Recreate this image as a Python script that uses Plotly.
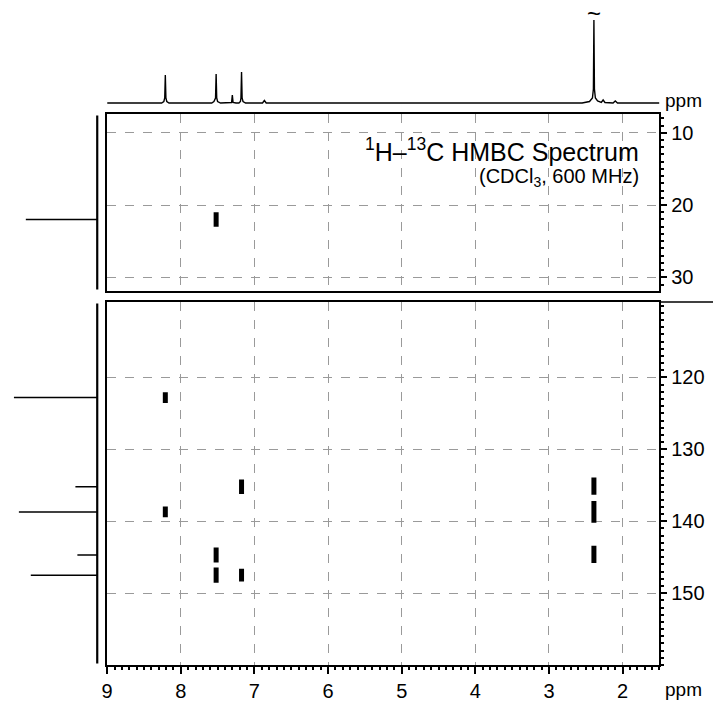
import plotly.graph_objects as go

# ---------------- data ----------------
# 1H projection (top trace): chemical shift (ppm) and intensity
h1_ppm = [9.00, 8.26, 8.23, 8.218, 8.21, 8.202, 8.19, 8.16,
          7.58, 7.55, 7.528, 7.52, 7.512, 7.50, 7.46,
          7.33, 7.31, 7.30, 7.29, 7.25,
          7.21, 7.19, 7.183, 7.175, 7.167, 7.155, 7.12,
          6.89, 6.865, 6.84,
          2.55, 2.45, 2.41, 2.397, 2.39, 2.383, 2.37, 2.34,
          2.29, 2.265, 2.24, 2.13, 2.10, 2.07, 1.50]
h1_int = [0, 0, 1.5, 5, 28, 5, 1.5, 0,
          0, 1.5, 5, 29, 5, 1.5, 0,
          0, 0.5, 8, 0.5, 0,
          0, 1.5, 5, 31, 5, 1.5, 0,
          0, 2.5, 0,
          0, 1.5, 5, 14, 83, 14, 5, 2,
          0.5, 3, 0.5, 0, 2, 0, 0]
h1_truncated_ppm = [2.39]

# 13C projection (left trace)
c13_ppm = [22.0, 122.8, 135.2, 138.7, 144.7, 147.5]
c13_int = [72, 84, 22, 79, 20, 67]

# HMBC cross peaks (1H ppm, 13C ppm, 13C half-extent of contour)
hmbc_h = [7.52, 8.21, 8.21, 7.175, 7.52, 7.52, 7.175, 2.39, 2.39, 2.39]
hmbc_c = [22.0, 122.8, 138.7, 135.2, 144.7, 147.5, 147.5, 135.1, 138.7, 144.6]
hmbc_hw = [1.0, 0.75, 0.75, 1.0, 1.05, 1.05, 0.9, 1.2, 1.5, 1.2]

x_ticks = [9, 8, 7, 6, 5, 4, 3, 2]
y_ticks_top = [10, 20, 30]
y_ticks_bottom = [120, 130, 140, 150]

# ---------------- geometry ----------------
W, H = 713, 703
def px_x(a, b):
    return [a / W, b / W]
def px_y(top, bottom):
    return [1 - bottom / H, 1 - top / H]

FONT = "Liberation Sans, Arial, Helvetica, sans-serif"
GRID = "#9a9a9a"
TOP_RANGE = [31.9, 7.4]
BOT_RANGE = [160.0, 109.5]
TOP_DOM = px_y(114, 291)
BOT_DOM = px_y(302, 665)

fig = go.Figure()

# 1H spectrum
fig.add_trace(go.Scatter(x=h1_ppm, y=h1_int, mode="lines",
                         line=dict(color="black", width=1.4),
                         xaxis="x4", yaxis="y4", hoverinfo="skip"))

# 13C projection sticks
def proj(panel_test, yaxis, yrange):
    xs, ys = [], []
    for c, v in zip(c13_ppm, c13_int):
        if panel_test(c):
            xs += [0, v, None]
            ys += [c, c, None]
    fig.add_trace(go.Scatter(x=xs, y=ys, mode="lines",
                             line=dict(color="black", width=1.5),
                             xaxis="x3", yaxis=yaxis, hoverinfo="skip"))
    # baseline of the projection
    fig.add_trace(go.Scatter(x=[0, 0], y=[yrange[0] - 0.2, yrange[1] + 0.2],
                             mode="lines", line=dict(color="black", width=2.2),
                             xaxis="x3", yaxis=yaxis, hoverinfo="skip"))

proj(lambda c: c < 60, "y5", TOP_RANGE)
proj(lambda c: c >= 60, "y6", BOT_RANGE)

# cross peaks
def peaks(panel_test, xaxis, yaxis):
    xs, ys = [], []
    for h, c, w in zip(hmbc_h, hmbc_c, hmbc_hw):
        if panel_test(c):
            xs += [h, h, None]
            ys += [c - w, c + w, None]
    fig.add_trace(go.Scatter(x=xs, y=ys, mode="lines",
                             line=dict(color="black", width=5),
                             xaxis=xaxis, yaxis=yaxis, hoverinfo="skip"))

peaks(lambda c: c < 60, "x2", "y2")
peaks(lambda c: c >= 60, "x", "y3")

xdom = px_x(102, 659)
common_x = dict(range=[9, 1.5], domain=xdom, showgrid=True, griddash="dash",
                gridcolor=GRID, gridwidth=1, zeroline=False,
                showline=True, linecolor="black", linewidth=1.5, mirror=True)
common_y = dict(side="right", ticks="outside", ticklen=6, tickwidth=1.5,
                tickcolor="black",
                minor=dict(dtick=1, ticks="outside", ticklen=3,
                           tickcolor="black", showgrid=False),
                showgrid=True, griddash="dash", gridcolor=GRID, zeroline=False,
                showline=True, linecolor="black", linewidth=1.5, mirror=True,
                tickfont=dict(size=20))

fig.update_layout(
    width=W, height=H,
    margin=dict(l=0, r=0, t=0, b=0),
    paper_bgcolor="white", plot_bgcolor="white",
    showlegend=False,
    font=dict(family=FONT, color="black", size=20),
    xaxis=dict(**common_x, anchor="y3", tickvals=x_ticks, ticks="outside",
               ticklen=7, tickwidth=1.5, tickcolor="black",
               minor=dict(dtick=0.1, ticks="outside", ticklen=3,
                          tickcolor="black", showgrid=False),
               tickfont=dict(size=20)),
    xaxis2=dict(**common_x, anchor="y2", matches="x", tickvals=x_ticks,
                showticklabels=False, ticks=""),
    xaxis4=dict(range=[9, 1.5], domain=xdom, anchor="y4", visible=False),
    xaxis3=dict(range=[92, -4], domain=px_x(0, 96), anchor="free",
                position=0, visible=False),
    yaxis2=dict(**common_y, range=TOP_RANGE, domain=TOP_DOM, anchor="x",
                tickvals=y_ticks_top),
    yaxis3=dict(**common_y, range=BOT_RANGE, domain=BOT_DOM, anchor="x",
                tickvals=y_ticks_bottom),
    yaxis4=dict(range=[-2, 103], domain=px_y(0, 105), anchor="x4",
                visible=False),
    yaxis5=dict(range=TOP_RANGE, domain=TOP_DOM, anchor="x3", visible=False,
                showgrid=False),
    yaxis6=dict(range=BOT_RANGE, domain=BOT_DOM, anchor="x3", visible=False,
                showgrid=False),
)

# extension of the bottom panel's top border
fig.add_shape(type="line", xref="paper", yref="paper",
              x0=659 / W, x1=1.0, y0=1 - 302 / H, y1=1 - 302 / H,
              line=dict(color="black", width=1.5))

annotations = [
    dict(text="<sup>1</sup>H–<sup>13</sup>C HMBC Spectrum", xref="paper", yref="paper",
         x=640 / W, y=1 - 150 / H, xanchor="right", yanchor="middle",
         showarrow=False, font=dict(size=25)),
    dict(text="(CDCl<sub>3</sub>, 600 MHz)", xref="paper", yref="paper",
         x=640 / W, y=1 - 177 / H, xanchor="right", yanchor="middle",
         showarrow=False, font=dict(size=20)),
    dict(text="ppm", xref="paper", yref="paper", x=683 / W, y=1 - 100 / H,
         xanchor="center", yanchor="middle", showarrow=False, font=dict(size=19)),
    dict(text="ppm", xref="paper", yref="paper", x=683 / W, y=1 - 689 / H,
         xanchor="center", yanchor="middle", showarrow=False, font=dict(size=19)),
]
for p in h1_truncated_ppm:
    annotations.append(dict(text="~", x=p, y=90, xref="x4", yref="y4",
                            showarrow=False, font=dict(size=24),
                            xanchor="center", yanchor="middle"))
fig.update_layout(annotations=annotations)

fig.write_html(
    "out.html",
    config={"displayModeBar": False},
    post_script="document.body.style.margin='0px';"
                "document.body.style.overflow='hidden';",
)
